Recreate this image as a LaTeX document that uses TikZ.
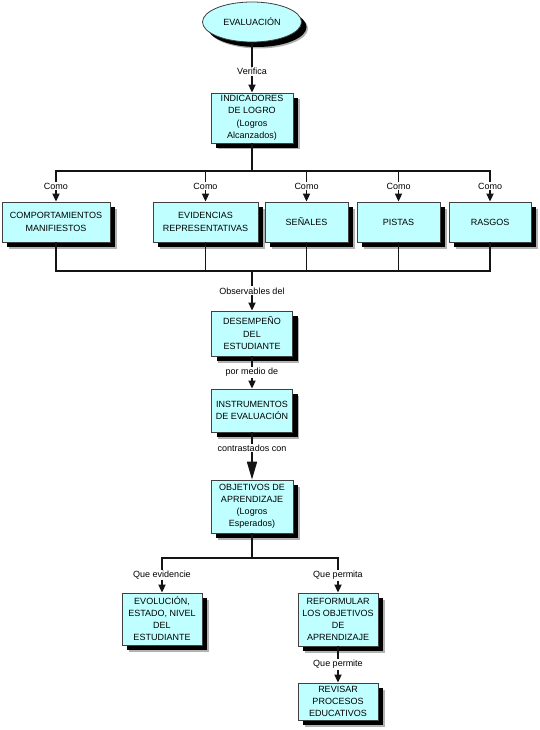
\documentclass[tikz,border=0pt]{standalone}
\usepackage{fontspec}
\setmainfont{Liberation Sans}
\usetikzlibrary{shapes.geometric,shadows,arrows.meta}
\definecolor{boxfill}{RGB}{192,255,255}
\definecolor{linec}{RGB}{20,20,20}
\begin{document}
\begin{tikzpicture}[x=1pt,y=-1pt,
  box/.style={draw=black!75, fill=boxfill, line width=0.8pt, align=center,
    font=\fontsize{9}{12.5}\selectfont, inner sep=0pt,
    drop shadow={shadow xshift=6.5pt, shadow yshift=-6.5pt, fill=black!30, opacity=1},
    drop shadow={shadow xshift=5pt, shadow yshift=-5pt, fill=black, opacity=1}},
  lbl/.style={fill=white, inner sep=1pt, font=\fontsize{9}{10}\selectfont},
  conn/.style={draw=linec, line width=1.7pt},
  bus/.style={conn, line cap=rect},
  arr/.style={conn, -{Triangle[width=7pt,length=8pt]}},
  bigarr/.style={conn, -{Triangle[width=10pt,length=18pt]}}]
\useasboundingbox (0,0) rectangle (539,730);

\node[ellipse, box, minimum width=99pt, minimum height=40pt] (eval) at (252,22) {EVALUACIÓN};
\node[box, minimum width=82pt, minimum height=50pt] (ind) at (252,118) {INDICADORES\\DE LOGRO\\(Logros\\Alcanzados)};

\node[box, minimum width=108pt, minimum height=40pt] (comp) at (56,222) {COMPORTAMIENTOS\\MANIFIESTOS};
\node[box, minimum width=105pt, minimum height=40pt] (evid) at (205.5,222) {EVIDENCIAS\\REPRESENTATIVAS};
\node[box, minimum width=83pt, minimum height=40pt] (sen) at (306.5,222) {SEÑALES};
\node[box, minimum width=83pt, minimum height=40pt] (pis) at (398.5,222) {PISTAS};
\node[box, minimum width=82pt, minimum height=40pt] (ras) at (490,222) {RASGOS};

\node[box, minimum width=81pt, minimum height=45pt] (des) at (252,333.5) {DESEMPEÑO\\DEL\\ESTUDIANTE};
\node[box, minimum width=81pt, minimum height=43pt] (ins) at (252,410.5) {INSTRUMENTOS\\DE EVALUACIÓN};
\node[box, minimum width=82pt, minimum height=53pt, font=\fontsize{9}{12}\selectfont] (obj) at (252,506.5) {OBJETIVOS DE\\APRENDIZAJE\\(Logros\\Esperados)};

\node[box, minimum width=80pt, minimum height=52pt, font=\fontsize{9}{12}\selectfont] (evo) at (162,619) {EVOLUCIÓN,\\ESTADO, NIVEL\\DEL\\ESTUDIANTE};
\node[box, minimum width=80pt, minimum height=53pt, font=\fontsize{9}{12}\selectfont] (ref) at (338,619.5) {REFORMULAR\\LOS OBJETIVOS\\DE\\APRENDIZAJE};
\node[box, minimum width=80pt, minimum height=37pt, font=\fontsize{9}{12}\selectfont] (rev) at (338,701.5) {REVISAR\\PROCESOS\\EDUCATIVOS};

\coordinate (b1) at (252,171);
\coordinate (b2) at (252,271);
\coordinate (b3) at (252,558);

\draw[arr] (eval) -- node[lbl,pos=0.58]{Verifica} (ind);
\draw[conn] (ind) -- (b1);
\draw[bus] (comp.north |- b1) -- (ras.north |- b1);
\foreach \n in {comp,evid,sen,pis,ras}
  \draw[arr] (\n.north |- b1) -- node[lbl]{Como} (\n.north);
\draw[conn, line join=miter] (comp.south) -- (comp.south |- b2) -- (ras.south |- b2) -- (ras.south);
\foreach \n in {evid,sen,pis}
  \draw[conn] (\n.south) -- (\n.south |- b2);
\draw[arr] (b2) -- node[lbl]{Observables del} (des);
\draw[arr] (des) -- node[lbl]{por medio de} (ins);
\draw[bigarr] (ins) -- node[lbl,pos=0.33]{contrastados con} (obj);
\draw[conn] (obj) -- (b3);
\draw[bus] (evo.north |- b3) -- (ref.north |- b3);
\draw[arr] (evo.north |- b3) -- node[lbl]{Que evidencie} (evo.north);
\draw[arr] (ref.north |- b3) -- node[lbl]{Que permita} (ref.north);
\draw[arr] (ref) -- node[lbl]{Que permite} (rev);
\end{tikzpicture}
\end{document}
